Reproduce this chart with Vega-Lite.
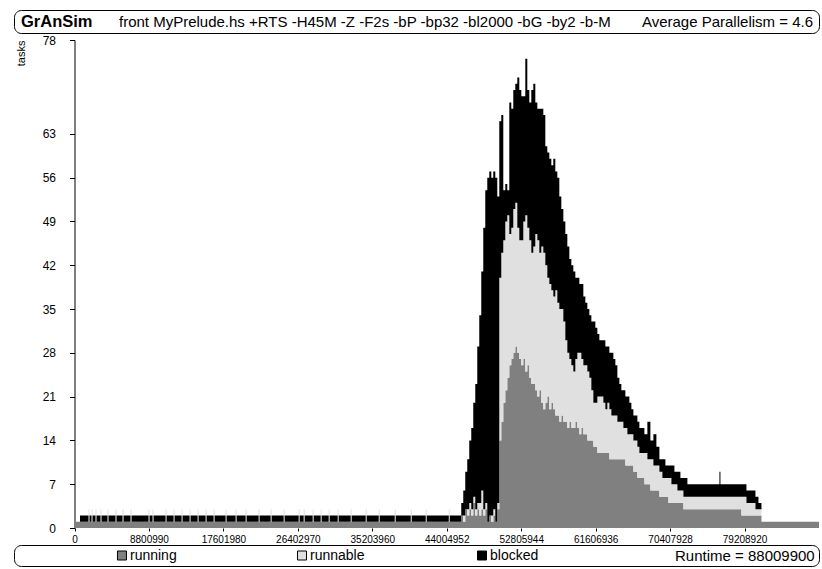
{
  "$schema": "https://vega.github.io/schema/vega-lite/v6.json",
  "padding": {"left": 13, "top": 9, "right": 4, "bottom": 1},
  "background": "white",
  "spacing": 0,
  "bounds": "full",
  "resolve": {"scale": {"color": "independent"}},
  "config": {
    "font": "Liberation Sans",
    "view": {"stroke": null},
    "axis": {"labelColor": "black", "tickColor": "black", "domainColor": "black", "titleColor": "black", "grid": false, "labelFont": "Liberation Sans", "titleFont": "Liberation Sans"}
  },
  "vconcat": [
    {
      "width": 805,
      "height": 23,
      "view": {"stroke": "black", "strokeWidth": 1, "cornerRadius": 7},
      "layer": [
        {
          "data": {"values": [{"label": "GrAnSim"}]},
          "mark": {"type": "text", "align": "left", "baseline": "middle", "fontWeight": "bold", "fontSize": 16.5, "dx": 7, "color": "black"},
          "encoding": {
            "x": {"datum": 0, "type": "quantitative", "scale": {"domain": [0, 1]}, "axis": null},
            "text": {"field": "label"}
          }
        },
        {
          "data": {"values": [{"label": "front MyPrelude.hs +RTS -H45M -Z -F2s -bP -bp32 -bl2000 -bG -by2 -b-M"}]},
          "mark": {"type": "text", "align": "left", "baseline": "middle", "fontSize": 15, "color": "black"},
          "encoding": {
            "x": {"datum": 0.1304, "type": "quantitative"},
            "text": {"field": "label"}
          }
        },
        {
          "data": {"values": [{"label": "Average Parallelism = 4.6"}]},
          "mark": {"type": "text", "align": "right", "baseline": "middle", "fontSize": 15, "dx": -6, "color": "black"},
          "encoding": {
            "x": {"datum": 1, "type": "quantitative"},
            "text": {"field": "label"}
          }
        }
      ]
    },
    {
      "width": 805,
      "height": 488,
      "data": {"values": [
        {"t":0,"running":1,"runnable":0,"blocked":0},
        {"t":650612,"running":1,"runnable":0,"blocked":1},
        {"t":1656102,"running":1,"runnable":2,"blocked":0},
        {"t":1774395,"running":1,"runnable":0,"blocked":1},
        {"t":2010981,"running":1,"runnable":2,"blocked":0},
        {"t":2129274,"running":1,"runnable":0,"blocked":1},
        {"t":2484153,"running":1,"runnable":2,"blocked":0},
        {"t":2602446,"running":1,"runnable":0,"blocked":1},
        {"t":3075618,"running":1,"runnable":2,"blocked":0},
        {"t":3193911,"running":1,"runnable":0,"blocked":1},
        {"t":3903669,"running":1,"runnable":2,"blocked":0},
        {"t":4021962,"running":1,"runnable":0,"blocked":1},
        {"t":4850013,"running":1,"runnable":2,"blocked":0},
        {"t":4968306,"running":1,"runnable":0,"blocked":1},
        {"t":5678064,"running":1,"runnable":2,"blocked":0},
        {"t":5796357,"running":1,"runnable":0,"blocked":1},
        {"t":6624408,"running":1,"runnable":2,"blocked":0},
        {"t":6742701,"running":1,"runnable":0,"blocked":1},
        {"t":8753682,"running":1,"runnable":2,"blocked":0},
        {"t":8871975,"running":1,"runnable":0,"blocked":1},
        {"t":9226854,"running":1,"runnable":2,"blocked":0},
        {"t":9345147,"running":1,"runnable":0,"blocked":1},
        {"t":10764663,"running":1,"runnable":2,"blocked":0},
        {"t":10882956,"running":1,"runnable":0,"blocked":1},
        {"t":11711007,"running":1,"runnable":2,"blocked":0},
        {"t":11829300,"running":1,"runnable":0,"blocked":1},
        {"t":12657351,"running":1,"runnable":2,"blocked":0},
        {"t":12775644,"running":1,"runnable":0,"blocked":1},
        {"t":13603695,"running":1,"runnable":2,"blocked":0},
        {"t":13721988,"running":1,"runnable":0,"blocked":1},
        {"t":14550039,"running":1,"runnable":2,"blocked":0},
        {"t":14668332,"running":1,"runnable":0,"blocked":1},
        {"t":15496383,"running":1,"runnable":2,"blocked":0},
        {"t":15614676,"running":1,"runnable":0,"blocked":1},
        {"t":16442727,"running":1,"runnable":2,"blocked":0},
        {"t":16561020,"running":1,"runnable":0,"blocked":1},
        {"t":17862243,"running":1,"runnable":2,"blocked":0},
        {"t":17980536,"running":1,"runnable":0,"blocked":1},
        {"t":19045173,"running":1,"runnable":2,"blocked":0},
        {"t":19163466,"running":1,"runnable":0,"blocked":1},
        {"t":20228103,"running":1,"runnable":2,"blocked":0},
        {"t":20346396,"running":1,"runnable":0,"blocked":1},
        {"t":21765912,"running":1,"runnable":2,"blocked":0},
        {"t":21884205,"running":1,"runnable":0,"blocked":1},
        {"t":23185428,"running":1,"runnable":2,"blocked":0},
        {"t":23303721,"running":1,"runnable":0,"blocked":1},
        {"t":24723237,"running":1,"runnable":2,"blocked":0},
        {"t":24841530,"running":1,"runnable":0,"blocked":1},
        {"t":26497632,"running":1,"runnable":2,"blocked":0},
        {"t":26615925,"running":1,"runnable":0,"blocked":1},
        {"t":27089097,"running":1,"runnable":2,"blocked":0},
        {"t":27207390,"running":1,"runnable":0,"blocked":1},
        {"t":28153734,"running":1,"runnable":2,"blocked":0},
        {"t":28272027,"running":1,"runnable":0,"blocked":1},
        {"t":29100078,"running":1,"runnable":2,"blocked":0},
        {"t":29218371,"running":1,"runnable":0,"blocked":1},
        {"t":30046422,"running":1,"runnable":2,"blocked":0},
        {"t":30164715,"running":1,"runnable":0,"blocked":1},
        {"t":31111059,"running":1,"runnable":2,"blocked":0},
        {"t":31229352,"running":1,"runnable":0,"blocked":1},
        {"t":32648868,"running":1,"runnable":2,"blocked":0},
        {"t":32767161,"running":1,"runnable":0,"blocked":1},
        {"t":34423263,"running":1,"runnable":2,"blocked":0},
        {"t":34541556,"running":1,"runnable":0,"blocked":1},
        {"t":35961072,"running":1,"runnable":2,"blocked":0},
        {"t":36079365,"running":1,"runnable":0,"blocked":1},
        {"t":37853760,"running":1,"runnable":2,"blocked":0},
        {"t":37972053,"running":1,"runnable":0,"blocked":1},
        {"t":39746448,"running":1,"runnable":2,"blocked":0},
        {"t":39864741,"running":1,"runnable":0,"blocked":1},
        {"t":41520843,"running":1,"runnable":2,"blocked":0},
        {"t":41639136,"running":1,"runnable":0,"blocked":1},
        {"t":44241582,"running":1,"runnable":2,"blocked":0},
        {"t":44359875,"running":1,"runnable":0,"blocked":1},
        {"t":45483659,"running":1,"runnable":0,"blocked":1},
        {"t":45720245,"running":2,"runnable":0,"blocked":2},
        {"t":45956831,"running":1,"runnable":1,"blocked":4},
        {"t":46193417,"running":3,"runnable":0,"blocked":6},
        {"t":46430003,"running":2,"runnable":1,"blocked":8},
        {"t":46666589,"running":3,"runnable":1,"blocked":10},
        {"t":46903175,"running":2,"runnable":1,"blocked":13},
        {"t":47139761,"running":4,"runnable":1,"blocked":15},
        {"t":47376347,"running":2,"runnable":1,"blocked":20},
        {"t":47612933,"running":3,"runnable":1,"blocked":25},
        {"t":47849519,"running":2,"runnable":2,"blocked":30},
        {"t":48086105,"running":3,"runnable":3,"blocked":35},
        {"t":48322691,"running":2,"runnable":1,"blocked":45},
        {"t":48559277,"running":3,"runnable":1,"blocked":50},
        {"t":48795863,"running":1,"runnable":0,"blocked":55},
        {"t":49032449,"running":2,"runnable":0,"blocked":55},
        {"t":49269035,"running":1,"runnable":1,"blocked":54},
        {"t":49505621,"running":2,"runnable":1,"blocked":54},
        {"t":49742207,"running":1,"runnable":0,"blocked":55},
        {"t":49978793,"running":3,"runnable":1,"blocked":49},
        {"t":50215379,"running":14,"runnable":26,"blocked":25},
        {"t":50451965,"running":17,"runnable":27,"blocked":22},
        {"t":50688551,"running":20,"runnable":26,"blocked":8},
        {"t":50925137,"running":22,"runnable":27,"blocked":6},
        {"t":51161723,"running":24,"runnable":26,"blocked":4},
        {"t":51398309,"running":26,"runnable":21,"blocked":21},
        {"t":51634895,"running":27,"runnable":21,"blocked":19},
        {"t":51871481,"running":28,"runnable":23,"blocked":19},
        {"t":52108067,"running":29,"runnable":23,"blocked":19},
        {"t":52344653,"running":28,"runnable":20,"blocked":24},
        {"t":52581239,"running":27,"runnable":19,"blocked":24},
        {"t":52817825,"running":26,"runnable":20,"blocked":23},
        {"t":53054411,"running":27,"runnable":22,"blocked":20},
        {"t":53290997,"running":25,"runnable":25,"blocked":25},
        {"t":53527583,"running":26,"runnable":22,"blocked":22},
        {"t":53764169,"running":24,"runnable":22,"blocked":22},
        {"t":54000755,"running":23,"runnable":21,"blocked":26},
        {"t":54237341,"running":23,"runnable":22,"blocked":26},
        {"t":54473927,"running":22,"runnable":25,"blocked":21},
        {"t":54710513,"running":21,"runnable":25,"blocked":21},
        {"t":54947099,"running":22,"runnable":22,"blocked":23},
        {"t":55183685,"running":20,"runnable":25,"blocked":22},
        {"t":55420271,"running":19,"runnable":25,"blocked":22},
        {"t":55656857,"running":20,"runnable":22,"blocked":19},
        {"t":55893443,"running":21,"runnable":19,"blocked":20},
        {"t":56130029,"running":19,"runnable":20,"blocked":20},
        {"t":56366615,"running":20,"runnable":18,"blocked":20},
        {"t":56603201,"running":19,"runnable":18,"blocked":22},
        {"t":56839787,"running":18,"runnable":20,"blocked":19},
        {"t":57076373,"running":18,"runnable":18,"blocked":20},
        {"t":57312959,"running":17,"runnable":18,"blocked":18},
        {"t":57549545,"running":18,"runnable":17,"blocked":16},
        {"t":57786131,"running":17,"runnable":16,"blocked":16},
        {"t":58022717,"running":17,"runnable":13,"blocked":17},
        {"t":58259303,"running":16,"runnable":12,"blocked":17},
        {"t":58495889,"running":17,"runnable":10,"blocked":16},
        {"t":58732475,"running":16,"runnable":10,"blocked":16},
        {"t":58969061,"running":16,"runnable":9,"blocked":16},
        {"t":59205647,"running":17,"runnable":10,"blocked":13},
        {"t":59442233,"running":16,"runnable":12,"blocked":12},
        {"t":59678819,"running":15,"runnable":13,"blocked":11},
        {"t":59915405,"running":16,"runnable":11,"blocked":12},
        {"t":60151991,"running":15,"runnable":11,"blocked":11},
        {"t":60388577,"running":15,"runnable":11,"blocked":10},
        {"t":60625163,"running":14,"runnable":11,"blocked":10},
        {"t":60861749,"running":14,"runnable":10,"blocked":10},
        {"t":61098335,"running":14,"runnable":8,"blocked":11},
        {"t":61334921,"running":13,"runnable":7,"blocked":13},
        {"t":61571507,"running":13,"runnable":7,"blocked":12},
        {"t":61808093,"running":12,"runnable":9,"blocked":10},
        {"t":62044679,"running":12,"runnable":9,"blocked":9},
        {"t":62281265,"running":12,"runnable":9,"blocked":9},
        {"t":62517851,"running":12,"runnable":8,"blocked":10},
        {"t":62754437,"running":12,"runnable":7,"blocked":10},
        {"t":62991023,"running":12,"runnable":8,"blocked":9},
        {"t":63227609,"running":11,"runnable":8,"blocked":9},
        {"t":63464195,"running":11,"runnable":7,"blocked":10},
        {"t":63700781,"running":11,"runnable":7,"blocked":9},
        {"t":63937367,"running":11,"runnable":7,"blocked":8},
        {"t":64173953,"running":11,"runnable":6,"blocked":7},
        {"t":64410539,"running":11,"runnable":6,"blocked":6},
        {"t":64647125,"running":11,"runnable":6,"blocked":5},
        {"t":64883711,"running":11,"runnable":5,"blocked":6},
        {"t":65120297,"running":10,"runnable":6,"blocked":5},
        {"t":65356883,"running":10,"runnable":5,"blocked":6},
        {"t":65593469,"running":10,"runnable":5,"blocked":5},
        {"t":65830055,"running":10,"runnable":5,"blocked":4},
        {"t":66066641,"running":9,"runnable":5,"blocked":4},
        {"t":66303227,"running":9,"runnable":5,"blocked":4},
        {"t":66539813,"running":8,"runnable":5,"blocked":4},
        {"t":66776399,"running":8,"runnable":4,"blocked":4},
        {"t":67012985,"running":8,"runnable":4,"blocked":4},
        {"t":67367864,"running":7,"runnable":5,"blocked":3},
        {"t":67722743,"running":7,"runnable":4,"blocked":6},
        {"t":68077622,"running":6,"runnable":5,"blocked":3},
        {"t":68432501,"running":6,"runnable":4,"blocked":5},
        {"t":68787380,"running":6,"runnable":4,"blocked":3},
        {"t":69142259,"running":5,"runnable":4,"blocked":2},
        {"t":69497138,"running":5,"runnable":3,"blocked":3},
        {"t":69852017,"running":5,"runnable":3,"blocked":2},
        {"t":70206896,"running":4,"runnable":4,"blocked":2},
        {"t":70561775,"running":4,"runnable":3,"blocked":3},
        {"t":70916654,"running":4,"runnable":3,"blocked":2},
        {"t":71271533,"running":4,"runnable":2,"blocked":3},
        {"t":71626412,"running":4,"runnable":2,"blocked":2},
        {"t":71981291,"running":3,"runnable":2,"blocked":3},
        {"t":72454463,"running":3,"runnable":2,"blocked":2},
        {"t":72927635,"running":3,"runnable":2,"blocked":2},
        {"t":76239839,"running":3,"runnable":2,"blocked":4},
        {"t":76358132,"running":3,"runnable":2,"blocked":2},
        {"t":78842285,"running":2,"runnable":3,"blocked":2},
        {"t":79433750,"running":2,"runnable":2,"blocked":2},
        {"t":80025215,"running":2,"runnable":2,"blocked":2},
        {"t":80498387,"running":2,"runnable":1,"blocked":2},
        {"t":80853266,"running":2,"runnable":1,"blocked":1},
        {"t":81208145,"running":1,"runnable":0,"blocked":0},
        {"t":88009900,"running":1,"runnable":0,"blocked":0}
      ]},
      "transform": [{"fold": ["running", "runnable", "blocked"], "as": ["state", "tasks"]}],
      "mark": {"type": "area", "interpolate": "step-after"},
      "encoding": {
        "x": {
          "field": "t", "type": "quantitative",
          "scale": {"domain": [-7152000, 88009900], "nice": false, "zero": false},
          "axis": {"values": [0, 8800990, 17601980, 26402970, 35203960, 44004952, 52805944, 61606936, 70407928, 79208920], "format": "d", "labelFontSize": 10, "labelFlush": false, "labelOverlap": false, "tickSize": 3, "labelPadding": 3, "domain": false, "title": null}
        },
        "y": {
          "field": "tasks", "type": "quantitative", "stack": "zero",
          "scale": {"domain": [0, 78], "nice": false},
          "axis": {"values": [0, 7, 14, 21, 28, 35, 42, 49, 56, 63, 78], "offset": -60.5, "labelFontSize": 12, "labelPadding": 14, "tickSize": 5, "title": "tasks", "titleFontSize": 11, "titleFontWeight": "normal", "titleAnchor": "end", "titlePadding": 16}
        },
        "color": {"field": "state", "type": "nominal", "scale": {"domain": ["running", "runnable", "blocked"], "range": ["#808080", "#e0e0e0", "#000000"]}, "legend": null},
        "order": {"field": "state", "sort": "descending"}
      }
    },
    {
      "width": 805,
      "height": 21,
      "view": {"stroke": "black", "strokeWidth": 1, "cornerRadius": 7},
      "data": {"values": [{"item": "running"}, {"item": "runnable"}, {"item": "blocked"}, {"item": "Runtime = 88009900"}]},
      "encoding": {
        "x": {"field": "item", "type": "nominal", "sort": null, "scale": {"type": "point", "domain": ["running", "runnable", "blocked", "Runtime = 88009900"], "padding": 0.736, "align": 0.4075}, "axis": null}
      },
      "layer": [
        {
          "transform": [{"filter": "datum.item != 'Runtime = 88009900'"}],
          "mark": {"type": "point", "shape": "square", "size": 81, "filled": true, "stroke": "black", "strokeWidth": 1, "opacity": 1},
          "encoding": {"color": {"field": "item", "type": "nominal", "scale": {"domain": ["running", "runnable", "blocked"], "range": ["#808080", "#e0e0e0", "#000000"]}, "legend": null}}
        },
        {
          "transform": [{"filter": "datum.item != 'Runtime = 88009900'"}],
          "mark": {"type": "text", "align": "left", "baseline": "middle", "dx": 8, "fontSize": 14, "color": "black"},
          "encoding": {"text": {"field": "item"}}
        },
        {
          "transform": [{"filter": "datum.item == 'Runtime = 88009900'"}],
          "mark": {"type": "text", "align": "left", "baseline": "middle", "dx": 13, "fontSize": 15, "color": "black"},
          "encoding": {"text": {"field": "item"}}
        }
      ]
    }
  ]
}
